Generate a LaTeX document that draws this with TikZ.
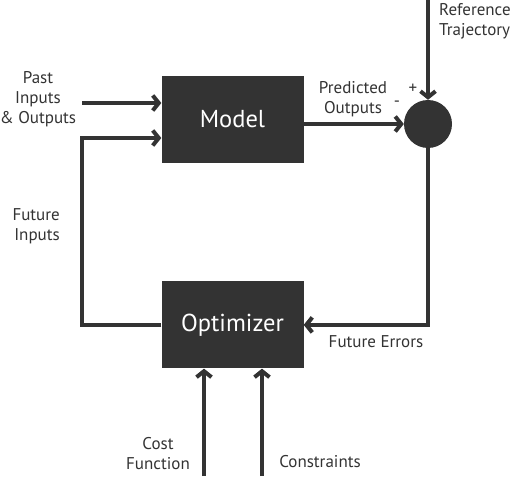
\documentclass[tikz,border=0pt]{standalone}
\usepackage{fontspec}
\setmainfont{PT Sans}
\usetikzlibrary{arrows.meta,positioning}
\definecolor{darkgray}{HTML}{333333}

\begin{document}
\begin{tikzpicture}[
      x=1pt, y=-1pt,
      node distance=118pt and 101pt,
      every node/.style={font=\fontsize{17}{20}\selectfont, text=darkgray},
      block/.style={fill=darkgray, minimum width=142pt, minimum height=87pt,
                    inner sep=0pt, text=white, font=\fontsize{24.5}{28}\selectfont},
      sum/.style={circle, fill=darkgray, minimum size=48pt, inner sep=0pt},
      lbl/.style={align=center, inner sep=0pt},
      ar/.style={-{Straight Barb[length=6pt, width=15pt]}, line width=4pt, draw=darkgray}
    ]
    \useasboundingbox (0,0) rectangle (516,476);
    \node[block] (model) at (232.5,119.5) {Model};
    \node[block, below=118pt of model] (opt) {Optimizer};
    \node[sum] (comp) at (428,124) {};
    \coordinate (ref) at (428,0);
    \coordinate (past) at (82,103);
    \coordinate (fut) at (82,138);
    \coordinate (cost) at (204,476);
    \coordinate (cons) at (262,476);
    \draw[ar] (ref) -- (comp);
    \draw[ar] (model.east |- comp) -- (comp);
    \draw[ar] (comp) |- (opt.east);
    \draw[ar] (past) -- (model.west |- past);
    \draw[ar] (opt.west) -| (fut) -- (model.west |- fut);
    \draw[ar] (cost) -- (cost |- opt.south);
    \draw[ar] (cons) -- (cons |- opt.south);
    % labels
    \node[lbl, align=left, anchor=west] (reflbl) at (439,21) {Reference\\Trajectory};
    \node[lbl] (predlbl) at (353,99) {Predicted\\Outputs};
    \node[lbl] (plus) at (413,89) {+};
    \node[lbl] (minus) at (397,104) {-};
    \node[lbl] (pastlbl) at (38,99) {Past\\Inputs\\\& Outputs};
    \node[lbl, align=right, anchor=east] (futlbl) at (60,226) {Future\\Inputs};
    \node[lbl] (errlbl) at (376,342) {Future Errors};
    \node[lbl] (costlbl) at (158,454) {Cost\\Function};
    \node[lbl] (conslbl) at (320,462) {Constraints};
  \end{tikzpicture}
\end{document}
